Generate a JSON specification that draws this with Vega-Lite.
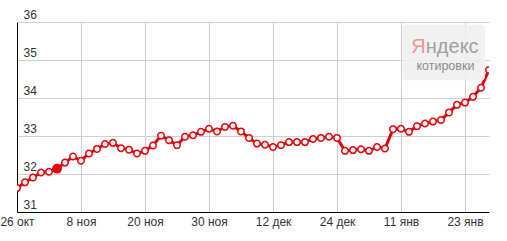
{
  "$schema": "https://vega.github.io/schema/vega-lite/v6.json",
  "width": 472,
  "height": 190,
  "autosize": {"type": "none"},
  "padding": {"left": 17, "top": 22, "right": 18, "bottom": 29},
  "background": "white",
  "config": {
    "view": {"stroke": null},
    "font": "Liberation Sans",
    "axis": {"labelFont": "Liberation Sans", "labelFontSize": 12, "labelColor": "#333", "gridColor": "#cfcfcf", "gridWidth": 1, "domainColor": "#000", "domainWidth": 1, "ticks": false, "title": null, "labelOverlap": false, "labelBound": false, "labelFlush": false}
  },
  "datasets": {
    "rate": [
      {"i": 0, "v": 31.63}, {"i": 1, "v": 31.78}, {"i": 2, "v": 31.91}, {"i": 3, "v": 32.04},
      {"i": 4, "v": 32.06}, {"i": 5, "v": 32.14, "sel": true}, {"i": 6, "v": 32.30}, {"i": 7, "v": 32.46},
      {"i": 8, "v": 32.35}, {"i": 9, "v": 32.54}, {"i": 10, "v": 32.66}, {"i": 11, "v": 32.79},
      {"i": 12, "v": 32.82}, {"i": 13, "v": 32.68}, {"i": 14, "v": 32.64}, {"i": 15, "v": 32.54},
      {"i": 16, "v": 32.61}, {"i": 17, "v": 32.75}, {"i": 18, "v": 33.01}, {"i": 19, "v": 32.89},
      {"i": 20, "v": 32.76}, {"i": 21, "v": 32.98}, {"i": 22, "v": 33.02}, {"i": 23, "v": 33.11},
      {"i": 24, "v": 33.19}, {"i": 25, "v": 33.12}, {"i": 26, "v": 33.24}, {"i": 27, "v": 33.27},
      {"i": 28, "v": 33.12}, {"i": 29, "v": 32.95}, {"i": 30, "v": 32.80}, {"i": 31, "v": 32.77},
      {"i": 32, "v": 32.71}, {"i": 33, "v": 32.76}, {"i": 34, "v": 32.84}, {"i": 35, "v": 32.84},
      {"i": 36, "v": 32.84}, {"i": 37, "v": 32.92}, {"i": 38, "v": 32.95}, {"i": 39, "v": 32.98},
      {"i": 40, "v": 32.95}, {"i": 41, "v": 32.61}, {"i": 42, "v": 32.63}, {"i": 43, "v": 32.65},
      {"i": 44, "v": 32.61}, {"i": 45, "v": 32.71}, {"i": 46, "v": 32.67}, {"i": 47, "v": 33.18},
      {"i": 48, "v": 33.19}, {"i": 49, "v": 33.11}, {"i": 50, "v": 33.26}, {"i": 51, "v": 33.33},
      {"i": 52, "v": 33.38}, {"i": 53, "v": 33.42}, {"i": 54, "v": 33.62}, {"i": 55, "v": 33.82},
      {"i": 56, "v": 33.88}, {"i": 57, "v": 34.03}, {"i": 58, "v": 34.27}, {"i": 59, "v": 34.74}
    ],
    "badge": [{"first": "Я", "rest": "ндекс", "sub": "котировки"}]
  },
  "layer": [
    {
      "data": {"name": "rate"},
      "mark": {"type": "line", "color": "#e8000a", "strokeWidth": 3, "clip": true},
      "encoding": {
        "x": {"field": "i", "type": "quantitative", "scale": {"domain": [0, 59], "nice": false, "zero": false},
          "axis": {"values": [0, 8, 16, 24, 32, 40, 48, 56], "tickCount": 20, "grid": true, "labelPadding": 4,
            "labelExpr": "['26 окт','8 ноя','20 ноя','30 ноя','12 дек','24 дек','11 янв','23 янв'][datum.value / 8]"}},
        "y": {"field": "v", "type": "quantitative", "scale": {"domain": [31, 36], "nice": false, "zero": false},
          "axis": {"values": [31, 32, 33, 34, 35, 36], "tickCount": 20, "format": "d", "grid": true, "labelAlign": "left", "labelPadding": -6, "labelBaseline": "alphabetic", "labelOffset": -4}}
      }
    },
    {
      "data": {"name": "badge"},
      "mark": {"type": "rect", "cornerRadius": 3, "fill": "#eeeeee", "opacity": 0.85},
      "encoding": {
        "x": {"datum": 48.2, "type": "quantitative"},
        "x2": {"datum": 58.5},
        "y": {"datum": 35.93, "type": "quantitative"},
        "y2": {"datum": 34.47}
      }
    },
    {
      "data": {"name": "badge"},
      "mark": {"type": "text", "fontSize": 20, "align": "right", "baseline": "alphabetic", "fill": "#e59a9a"},
      "encoding": {"text": {"field": "first"}, "x": {"datum": 51.1, "type": "quantitative"}, "y": {"datum": 35.18, "type": "quantitative"}}
    },
    {
      "data": {"name": "badge"},
      "mark": {"type": "text", "fontSize": 20, "align": "left", "baseline": "alphabetic", "fill": "#a0a0a0"},
      "encoding": {"text": {"field": "rest"}, "x": {"datum": 51.1, "type": "quantitative"}, "y": {"datum": 35.18, "type": "quantitative"}}
    },
    {
      "data": {"name": "badge"},
      "mark": {"type": "text", "fontSize": 12.5, "align": "center", "baseline": "alphabetic", "fill": "#8a8a8a"},
      "encoding": {"text": {"field": "sub"}, "x": {"datum": 53.55, "type": "quantitative"}, "y": {"datum": 34.74, "type": "quantitative"}}
    },
    {
      "data": {"name": "rate"},
      "mark": {"type": "point", "shape": "circle", "filled": true, "fill": "white", "stroke": "#e8000a", "strokeWidth": 1.5, "size": 42, "opacity": 1, "clip": true},
      "encoding": {"x": {"field": "i", "type": "quantitative"}, "y": {"field": "v", "type": "quantitative"}}
    },
    {
      "data": {"name": "rate"},
      "transform": [{"filter": "datum.sel"}],
      "mark": {"type": "point", "shape": "circle", "filled": true, "fill": "#e8000a", "stroke": "#e8000a", "strokeWidth": 1.5, "size": 70, "opacity": 1, "clip": true},
      "encoding": {"x": {"field": "i", "type": "quantitative"}, "y": {"field": "v", "type": "quantitative"}}
    }
  ]
}
